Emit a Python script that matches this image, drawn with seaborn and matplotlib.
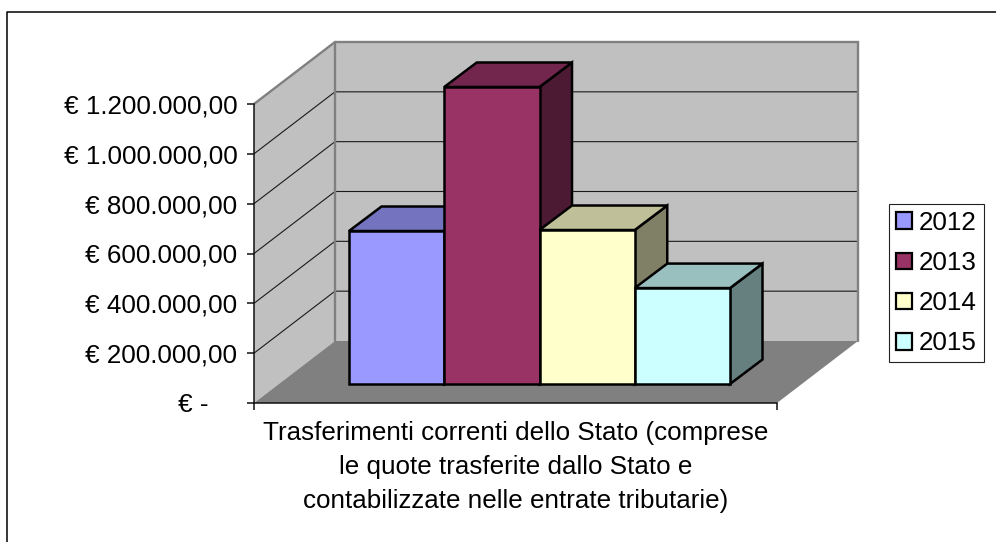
import numpy as np
import pandas as pd
import seaborn as sns
import matplotlib.pyplot as plt
from matplotlib.lines import Line2D
from matplotlib.patches import Patch

# Data
CATEGORY = "Trasferimenti correnti dello Stato (comprese\nle quote trasferite dallo Stato e\ncontabilizzate nelle entrate tributarie)"
YEARS = ["2012", "2013", "2014", "2015"]
VALUES = [614000, 1192000, 618000, 385000]
COLORS = ["#9999FF", "#993366", "#FFFFCC", "#CCFFFF"]
YTICKS = [0, 200000, 400000, 600000, 800000, 1000000, 1200000]
YTICK_LABELS = ["€ -    ", "€ 200.000,00", "€ 400.000,00", "€ 600.000,00",
                "€ 800.000,00", "€ 1.000.000,00", "€ 1.200.000,00"]

W, H = 996, 542
FONT_SIZE = 18.7
EDGE = 1.8


def px_rect(left, top, right, bottom):
    return [left / W, 1 - bottom / H, (right - left) / W, (bottom - top) / H]


def shade(color, factor):
    r, g, b = plt.matplotlib.colors.to_rgb(color)
    return (r * factor, g * factor, b * factor)


sns.set_theme(style="white")
plt.rcParams["font.family"] = ["Liberation Sans", "DejaVu Sans"]

fig = plt.figure(figsize=(W / 100, H / 100), dpi=100, facecolor="white")

# outer chart frame, only top and left edges fall inside the picture
fig.add_artist(Line2D([6.5 / W, 6.5 / W, 1], [0, 1 - 11.5 / H, 1 - 11.5 / H], color="black", lw=1.1))

# front plane of the 3D box, carries the ticks
ax = fig.add_axes(px_rect(254, 104, 777, 403))
ax.set_xlim(0, 1)
ax.set_ylim(0, 1200000)
ax.patch.set_visible(False)
for s in ["top", "right"]:
    ax.spines[s].set_visible(False)
for s in ["left", "bottom"]:
    ax.spines[s].set_color("#111111")
    ax.spines[s].set_linewidth(1.1)
    ax.spines[s].set_zorder(6)

ax.set_yticks(YTICKS)
ax.set_yticklabels(YTICK_LABELS, fontsize=FONT_SIZE, color="black")
ax.set_xticks([0, 1])
ax.set_xticklabels(["", ""])
ax.tick_params(axis="both", length=5, width=1.1, color="#111111", left=True, bottom=True, pad=7)
ax.set_xlabel(CATEGORY, fontsize=FONT_SIZE, color="black", linespacing=1.53, labelpad=1)

# depth of the box in data units
dx = 81 / 523
dy = 62 / 299 * 1200000
top = YTICKS[-1]

ax.fill([0, dx, dx, 0], [0, dy, top + dy, top], color="#C0C0C0", lw=0, clip_on=False, zorder=1)
ax.fill([dx, 1 + dx, 1 + dx, dx], [dy, dy, top + dy, top + dy], color="#C0C0C0", lw=0, clip_on=False, zorder=1)
ax.fill([0, 1, 1 + dx, dx], [0, 0, dy, dy], color="#808080", lw=0, clip_on=False, zorder=2)

for v in YTICKS[1:-1]:
    ax.plot([0, dx, 1 + dx], [v, v + dy, v + dy], color="#1a1a1a", lw=0.8, clip_on=False, zorder=3)

# grey edges of the walls
ax.plot([0, dx, 1 + dx, 1 + dx], [top, top + dy, top + dy, dy], color="#808080", lw=1.7,
        clip_on=False, zorder=4, solid_joinstyle="miter")
ax.plot([dx, dx], [dy, top + dy], color="#808080", lw=1.7, clip_on=False, zorder=4)

# bars sit inside the box, so they get their own axes with the same value scale
bx = fig.add_axes(px_rect(349, 85, 730, 384))
df = pd.DataFrame({"categoria": ["Stato"] * len(YEARS), "anno": YEARS, "valore": VALUES})
sns.barplot(data=df, x="categoria", y="valore", hue="anno", hue_order=YEARS,
            palette=dict(zip(YEARS, COLORS)), saturation=1, width=0.8, gap=0,
            edgecolor="black", linewidth=EDGE, legend=False, ax=bx)
bx.set_xlim(-0.4, 0.4)
bx.set_ylim(0, 1200000)
bx.axis("off")

bar_dx = 32.5 / 381 * 0.8
bar_dy = 24.5 / 299 * 1200000

# painter order left to right: side, top, then the front face seaborn drew
for i, (container, color) in enumerate(zip(bx.containers, COLORS)):
    bar = container[0]
    x0, x1, h = bar.get_x(), bar.get_x() + bar.get_width(), bar.get_height()
    z = 3 + i * 3
    bx.fill([x1, x1 + bar_dx, x1 + bar_dx, x1], [0, bar_dy, h + bar_dy, h], facecolor=shade(color, 0.5),
            edgecolor="black", lw=EDGE, clip_on=False, zorder=z, joinstyle="miter")
    bx.fill([x0, x1, x1 + bar_dx, x0 + bar_dx], [h, h, h + bar_dy, h + bar_dy], facecolor=shade(color, 0.75),
            edgecolor="black", lw=EDGE, clip_on=False, zorder=z + 1, joinstyle="miter")
    bar.set_zorder(z + 2)
    bar.set_clip_on(False)
    bar.set_joinstyle("miter")

handles = [Patch(facecolor=c, edgecolor="black", lw=1.6, label=y) for c, y in zip(COLORS, YEARS)]
leg = fig.legend(handles=handles, loc="upper left", bbox_to_anchor=(889 / W, 1 - 204 / H),
                 borderaxespad=0, fontsize=FONT_SIZE, frameon=True, fancybox=False, framealpha=1,
                 edgecolor="#222222", handlelength=0.62, handleheight=0.62, handletextpad=0.27,
                 labelspacing=0.62, borderpad=0.27, labelcolor="black")
leg.get_frame().set_linewidth(0.8)

fig.savefig("out.png", dpi=100, facecolor="white")
